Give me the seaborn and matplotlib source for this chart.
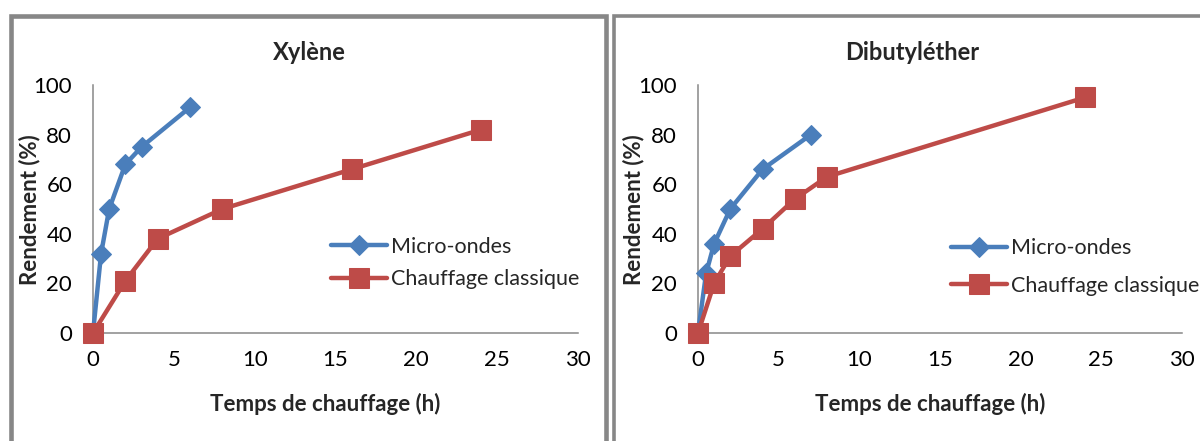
import matplotlib; matplotlib.use("Agg")
import matplotlib.pyplot as plt
import seaborn as sns
import pandas as pd
from matplotlib.patches import Rectangle

sns.set_theme(style="white")
plt.rcParams["font.family"] = ["Lato", "DejaVu Sans"]

# Xylène
xyl_micro_t = [0, 0.5, 1, 2, 3, 6]
xyl_micro_y = [0, 32, 50, 68, 75, 91]
xyl_class_t = [0, 2, 4, 8, 16, 24]
xyl_class_y = [0, 21, 38, 50, 66, 82]

# Dibutyléther
dbe_micro_t = [0, 0.5, 1, 2, 4, 7]
dbe_micro_y = [0, 24, 36, 50, 66, 80]
dbe_class_t = [0, 1, 2, 4, 6, 8, 24]
dbe_class_y = [0, 20, 31, 42, 54, 63, 95]

titles = ["Xylène", "Dibutyléther"]
series_labels = ["Micro-ondes", "Chauffage classique"]

BLUE = "#4A7EBB"
RED = "#BE4B48"
GREY = "#878787"

W, H = 1200, 441
fig = plt.figure(figsize=(12, 4.41), dpi=100)


def fx(px):
    return px / W


def fy(py):
    return 1 - py / H


# cadres des deux graphiques
fig.patches.append(Rectangle((fx(10.5), fy(460)), fx(606 - 10.5), fy(15.5) - fy(460),
                             transform=fig.transFigure, fill=False,
                             edgecolor=GREY, linewidth=3.3))
fig.patches.append(Rectangle((fx(613.5), fy(460)), fx(1230 - 613.5), fy(15.5) - fy(460),
                             transform=fig.transFigure, fill=False,
                             edgecolor=GREY, linewidth=2.6))

panels = [
    dict(ax_left=93, ax_right=578, title_x=309, ylab_x=30, leg=(331, 263), spacing=0.6,
         data=[(xyl_micro_t, xyl_micro_y), (xyl_class_t, xyl_class_y)]),
    dict(ax_left=698, ax_right=1182, title_x=912, ylab_x=634, leg=(951, 267), spacing=0.8,
         data=[(dbe_micro_t, dbe_micro_y), (dbe_class_t, dbe_class_y)]),
]

for p, title in zip(panels, titles):
    ax = fig.add_axes([fx(p["ax_left"]), fy(333), fx(p["ax_right"] - p["ax_left"]),
                       fy(85) - fy(333)])
    (mt, my), (ct, cy) = p["data"]
    df_m = pd.DataFrame({"t": mt, "y": my})
    df_c = pd.DataFrame({"t": ct, "y": cy})
    sns.lineplot(data=df_m, x="t", y="y", color=BLUE, linewidth=3.2, marker="D",
                 markersize=10.5, markeredgecolor=BLUE, label=series_labels[0],
                 sort=False, ax=ax, clip_on=False, zorder=3)
    sns.lineplot(data=df_c, x="t", y="y", color=RED, linewidth=3.2, marker="s",
                 markersize=14, markeredgecolor=RED, label=series_labels[1],
                 sort=False, ax=ax, clip_on=False, zorder=4)

    ax.set_xlim(0, 30)
    ax.set_ylim(0, 100)
    ax.set_xticks(range(0, 31, 5))
    ax.set_yticks(range(0, 101, 20))
    ax.tick_params(axis="both", which="both", direction="out", length=5, width=1,
                   color="#888888", labelsize=16, labelcolor="black", pad=7)
    ax.tick_params(axis="y", pad=10)
    for s in ["top", "right"]:
        ax.spines[s].set_visible(False)
    for s in ["left", "bottom"]:
        ax.spines[s].set_color("#888888")
        ax.spines[s].set_linewidth(1.1)
    ax.set_xlabel("")
    ax.set_ylabel("")
    ax.patch.set_alpha(0)

    fig.text(fx(p["title_x"]), fy(52), title, ha="center", va="center",
             fontsize=17, fontweight="bold")
    fig.text(fx((p["ax_left"] + p["ax_right"]) / 2 - 10), fy(404), "Temps de chauffage (h)",
             ha="center", va="center", fontsize=16, fontweight="bold")
    fig.text(fx(p["ylab_x"]), fy(210), "Rendement (%)", ha="center", va="center",
             rotation=90, fontsize=16, fontweight="bold")

    ax.legend(loc="center left", bbox_to_anchor=(fx(p["leg"][0]), fy(p["leg"][1])),
              bbox_transform=fig.transFigure, frameon=False, fontsize=15.5,
              handlelength=2.6, handletextpad=0.2, labelspacing=p["spacing"],
              borderaxespad=0, borderpad=0)

fig.savefig("out.png", dpi=100)
